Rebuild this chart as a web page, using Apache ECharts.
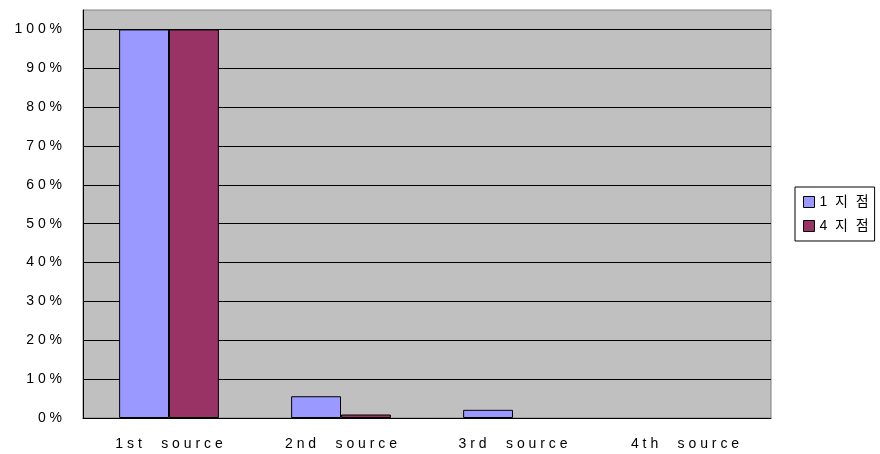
<!DOCTYPE html>
<html>
<head>
<meta charset="utf-8">
<script src="https://cdn.jsdelivr.net/npm/echarts@6/dist/echarts.min.js"></script>
<style>
  html, body { margin: 0; padding: 0; background: #fff; }
  #chart { width: 880px; height: 454px; }
</style>
</head>
<body>
<div id="chart"></div>
<script>
// Source categories and the share of each source per site
const categories = ['1st source', '2nd source', '3rd source', '4th source'];
const site1Name = '1지점';
const site4Name = '4지점';
const site1Values = [1.00, 0.056, 0.021, 0];
const site4Values = [1.00, 0.009, 0, 0];

// Wide-tracked text, like the original report font
const spaced = (s, gap = ' ') => String(s).split('').join(gap).replace(/   /g, '     ');
const FONT = '"Liberation Sans", "Noto Sans CJK KR", sans-serif';
// Empty bars are left out rather than drawn as a flat outline
const bars = arr => arr.map(v => (v === 0 ? null : v));

const chart = echarts.init(document.getElementById('chart'));
chart.setOption({
  animation: false,
  backgroundColor: '#ffffff',
  textStyle: { fontFamily: FONT },
  grid: {
    left: 83, right: 109, top: 10, bottom: 36,
    show: true, backgroundColor: '#c0c0c0', borderColor: '#808080', borderWidth: 1
  },
  legend: {
    orient: 'vertical',
    left: 795, top: 187,
    icon: 'rect',
    itemWidth: 11, itemHeight: 11, itemGap: 10,
    itemTextGap: 5,
    padding: [8, 6, 8, 8],
    borderColor: '#000', borderWidth: 1, borderRadius: 0,
    itemStyle: { borderColor: '#000', borderWidth: 1 },
    textStyle: { fontFamily: FONT, fontSize: 14, color: '#000' },
    formatter: name => spaced(name, '  '),
    data: [site1Name, site4Name]
  },
  xAxis: {
    type: 'category',
    data: categories,
    axisLine: { lineStyle: { color: '#000', width: 1 } },
    axisTick: { inside: true, length: 5, lineStyle: { color: '#000' } },
    axisLabel: {
      margin: 19, color: '#000', fontSize: 14, fontFamily: FONT,
      formatter: v => spaced(v)
    }
  },
  yAxis: {
    type: 'value',
    min: 0, max: 1.05, interval: 0.1,
    axisLine: { show: true, lineStyle: { color: '#000', width: 1 } },
    axisTick: { show: true, inside: true, length: 6, lineStyle: { color: '#000' } },
    splitLine: { showMinLine: false, showMaxLine: false, lineStyle: { color: '#000', width: 1 } },
    axisLabel: {
      margin: 21, color: '#000', fontSize: 14, fontFamily: FONT,
      showMaxLabel: false,
      formatter: v => spaced(Math.round(v * 100) + '%')
    }
  },
  series: [
    {
      name: site1Name, type: 'bar', data: bars(site1Values),
      barGap: '0%', barCategoryGap: '42%',
      itemStyle: { color: '#9999ff', borderColor: '#000', borderWidth: 1 }
    },
    {
      name: site4Name, type: 'bar', data: bars(site4Values),
      itemStyle: { color: '#993366', borderColor: '#000', borderWidth: 1 }
    }
  ]
});
</script>
</body>
</html>
